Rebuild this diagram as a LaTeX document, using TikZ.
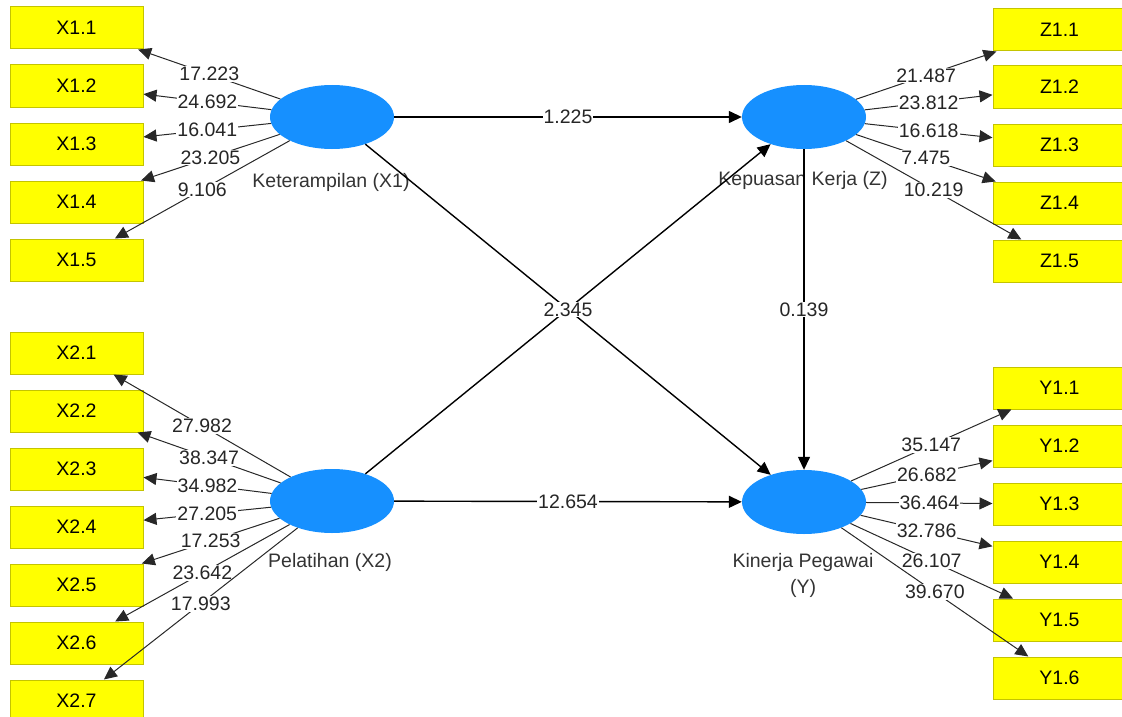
\documentclass[tikz,border=0pt]{standalone}
\usepackage{fontspec}
\setmainfont{Liberation Sans}
\usepackage{xcolor}
\usetikzlibrary{shapes.geometric,arrows.meta}
\definecolor{lvblue}{RGB}{22,144,255}
\definecolor{mvyellow}{RGB}{255,255,0}
\definecolor{mvborder}{RGB}{196,196,0}
\definecolor{pathgray}{RGB}{40,40,40}

\begin{document}
\begin{tikzpicture}[x=1pt, y=-1pt, >={Triangle[length=13pt,width=12pt]},
    every node/.style={font=\fontsize{19.5}{26}\selectfont},
    latent/.style={ellipse, fill=lvblue, minimum width=124pt, minimum height=64pt, inner sep=0pt},
    indicator/.style={draw=mvborder, fill=mvyellow, line width=1pt, minimum width=133pt, minimum height=42pt, inner sep=0pt},
    coef/.style={fill=white, inner sep=1pt, text=black!85},
    lvname/.style={text=black!80, align=center, inner sep=0pt},
    load/.style={->, line width=1pt, draw=pathgray},
    struct/.style={->, line width=1.4pt, draw=black}]
    \useasboundingbox (0,0) rectangle (1122,717);
    \clip (0,0) rectangle (1122,717);

    % latent variables
    \node[latent] (x1) at (332,117) {};
    \node[latent] (z) at (804,117) {};
    \node[latent] (x2) at (332,501) {};
    \node[latent] (y) at (804,502) {};
    \node[lvname] (x1name) at (331,182) {Keterampilan (X1)};
    \node[lvname] (zname) at (803,180) {Kepuasan Kerja (Z)};
    \node[lvname] (x2name) at (330,562) {Pelatihan (X2)};
    \node[lvname] (yname) at (803,575) {Kinerja Pegawai\\(Y)};

    % indicators
    \node[indicator] (x11) at (76.5,28) {X1.1};
    \node[indicator] (x12) at (76.5,86) {X1.2};
    \node[indicator] (x13) at (76.5,144) {X1.3};
    \node[indicator] (x14) at (76.5,202) {X1.4};
    \node[indicator] (x15) at (76.5,260) {X1.5};
    \node[indicator] (x21) at (76.5,353) {X2.1};
    \node[indicator] (x22) at (76.5,411) {X2.2};
    \node[indicator] (x23) at (76.5,469) {X2.3};
    \node[indicator] (x24) at (76.5,527) {X2.4};
    \node[indicator] (x25) at (76.5,585) {X2.5};
    \node[indicator] (x26) at (76.5,643) {X2.6};
    \node[indicator] (x27) at (76.5,701) {X2.7};
    \node[indicator] (z11) at (1059.5,30) {Z1.1};
    \node[indicator] (z12) at (1059.5,87) {Z1.2};
    \node[indicator] (z13) at (1059.5,145) {Z1.3};
    \node[indicator] (z14) at (1059.5,203) {Z1.4};
    \node[indicator] (z15) at (1059.5,261) {Z1.5};
    \node[indicator] (y11) at (1059.5,388) {Y1.1};
    \node[indicator] (y12) at (1059.5,446) {Y1.2};
    \node[indicator] (y13) at (1059.5,504) {Y1.3};
    \node[indicator] (y14) at (1059.5,562) {Y1.4};
    \node[indicator] (y15) at (1059.5,620) {Y1.5};
    \node[indicator] (y16) at (1059.5,678) {Y1.6};

    % inner model
    \draw[struct] (x2) -- (z);
    \draw[struct] (x1) -- node[coef] {2.345} (y);
    \draw[struct] (x1) -- node[coef] {1.225} (z);
    \draw[struct] (x2) -- node[coef] {12.654} (y);
    \draw[struct] (z) -- node[coef] {0.139} (y);

    % outer model
    \draw[load] (x1) -- node[coef] {17.223} (x11);
    \draw[load] (x1) -- node[coef] {24.692} (x12);
    \draw[load] (x1) -- node[coef] {16.041} (x13);
    \draw[load] (x1) -- node[coef] {23.205} (x14);
    \draw[load] (x1) -- node[coef] {9.106} (x15);
    \draw[load] (x2) -- node[coef] {27.982} (x21);
    \draw[load] (x2) -- node[coef] {38.347} (x22);
    \draw[load] (x2) -- node[coef] {34.982} (x23);
    \draw[load] (x2) -- node[coef] {27.205} (x24);
    \draw[load] (x2) -- node[coef] {17.253} (x25);
    \draw[load] (x2) -- node[coef] {23.642} (x26);
    \draw[load] (x2) -- node[coef] {17.993} (x27);
    \draw[load] (z) -- node[coef] {21.487} (z11);
    \draw[load] (z) -- node[coef] {23.812} (z12);
    \draw[load] (z) -- node[coef] {16.618} (z13);
    \draw[load] (z) -- node[coef] {7.475} (z14);
    \draw[load] (z) -- node[coef] {10.219} (z15);
    \draw[load] (y) -- node[coef] {35.147} (y11);
    \draw[load] (y) -- node[coef] {26.682} (y12);
    \draw[load] (y) -- node[coef] {36.464} (y13);
    \draw[load] (y) -- node[coef] {32.786} (y14);
    \draw[load] (y) -- node[coef] {26.107} (y15);
    \draw[load] (y) -- node[coef] {39.670} (y16);
\end{tikzpicture}
\end{document}
